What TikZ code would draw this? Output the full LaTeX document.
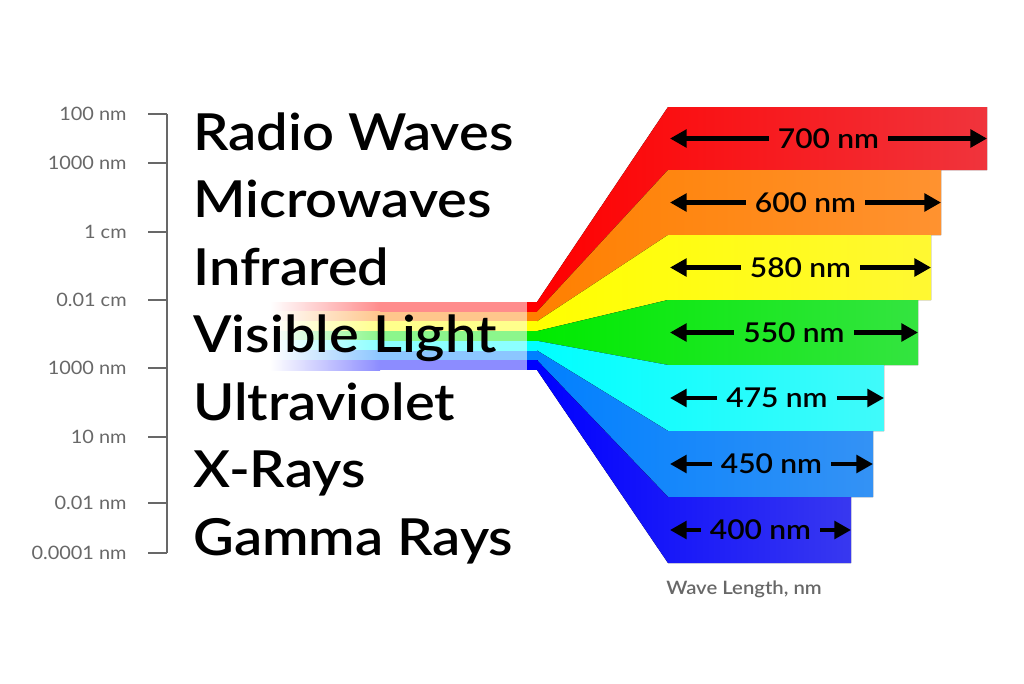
\documentclass[tikz,border=0pt]{standalone}
\usepackage{fontspec}
\setmainfont{Lato}
\newfontfamily\kindfont{Lato Semibold}[FakeStretch=1.1]
\newfontfamily\scalefont{Lato}[FakeStretch=1.08]
\usetikzlibrary{arrows.meta,positioning}
\definecolor{bandred}{RGB}{255,0,0}
\definecolor{bandredR}{RGB}{240,52,60}
\definecolor{bandorange}{RGB}{255,128,0}
\definecolor{bandorangeR}{RGB}{255,146,48}
\definecolor{bandyellow}{RGB}{255,255,0}
\definecolor{bandyellowR}{RGB}{255,248,50}
\definecolor{bandgreen}{RGB}{0,235,0}
\definecolor{bandgreenR}{RGB}{52,228,64}
\definecolor{bandcyan}{RGB}{0,255,255}
\definecolor{bandcyanR}{RGB}{64,250,250}
\definecolor{bandazure}{RGB}{0,128,255}
\definecolor{bandazureR}{RGB}{52,146,245}
\definecolor{bandblue}{RGB}{0,0,255}
\definecolor{bandblueR}{RGB}{56,56,240}
\definecolor{scalegray}{RGB}{104,104,104}

\begin{document}
\begin{tikzpicture}[
      x=0.02cm,y=-0.02cm,
      kindlabel/.style={anchor=base west,inner sep=0pt,
                        font=\fontsize{29}{32}\kindfont},
      scalelabel/.style={anchor=east,inner sep=0pt,text=scalegray,
                         font=\fontsize{10.5}{12}\scalefont},
      scaleline/.style={draw=scalegray,line width=1.4pt},
      bandlabel/.style={inner xsep=5pt,inner ysep=0pt,
                        font=\fontsize{15.5}{18}\kindfont},
      arr/.style={-{Triangle[length=9.5pt,width=10pt]},line width=2.3pt}
    ]
      \useasboundingbox (0,0) rectangle (1024,683);

      % scale on the left
      \draw[scaleline] (167,114) -- (167,553);
      \foreach \y/\t [count=\i] in {114/100 nm,163/1000 nm,232/1 cm,300/0.01 cm,
          368/1000 nm,437/10 nm,503/0.01 nm,553/0.0001 nm}{
        \draw[scaleline] (148,\y) -- (167,\y);
        \node[scalelabel] (tick\i) at (127,\y) {\t};
      }

      % beam and spread bands
      \foreach \c/\d/\yt/\yb/\xr/\lab [count=\k from 0] in {
          bandred/bandredR/107/170/987/700,
          bandorange/bandorangeR/170/235/941/600,
          bandyellow/bandyellowR/235/300/931/580,
          bandgreen/bandgreenR/300/365/918/550,
          bandcyan/bandcyanR/365/431/884/475,
          bandazure/bandazureR/431/497/873/450,
          bandblue/bandblueR/497/563/851/400}{
        \pgfmathsetmacro\bt{302+9.714*\k}
        \pgfmathsetmacro\bb{302+9.714*(\k+1)}
        \pgfmathsetmacro\ym{(\yt+\yb)/2}
        \pgfmathsetmacro\xm{(670+\xr)/2}
        \fill[left color=white,right color=\c!45] (270,\bt) rectangle (380,\bb);
        \fill[\c!45] (379.5,\bt) rectangle (527.5,\bb);
        \fill[\c] (527,\bt) rectangle (537.5,\bb);
        \fill[left color=\c,right color=\d]
          (537,\bt) -- (668,\yt) -- (\xr,\yt) -- (\xr,\yb) -- (668,\yb) -- (537,\bb) -- cycle;
        \coordinate (left\k) at (670,\ym);
        \coordinate (right\k) at (\xr,\ym);
        \node[bandlabel] (wave\k) at (\xm,\ym) {\lab{} nm};
        \draw[arr] (wave\k.west) -- (left\k);
        \draw[arr] (wave\k.east) -- (right\k);
      }

      % names of the ranges
      \foreach \t [count=\i from 0] in {Radio Waves,Microwaves,Infrared,Visible Light,
          Ultraviolet,X-Rays,Gamma Rays}{
        \node[kindlabel] (kind\i) at (193,{150+67.5*\i}) {\t};
      }

      \node[text=scalegray,font=\fontsize{10.5}{12}\kindfont] (axisname) at (744,589) {Wave Length, nm};
    \end{tikzpicture}
\end{document}
